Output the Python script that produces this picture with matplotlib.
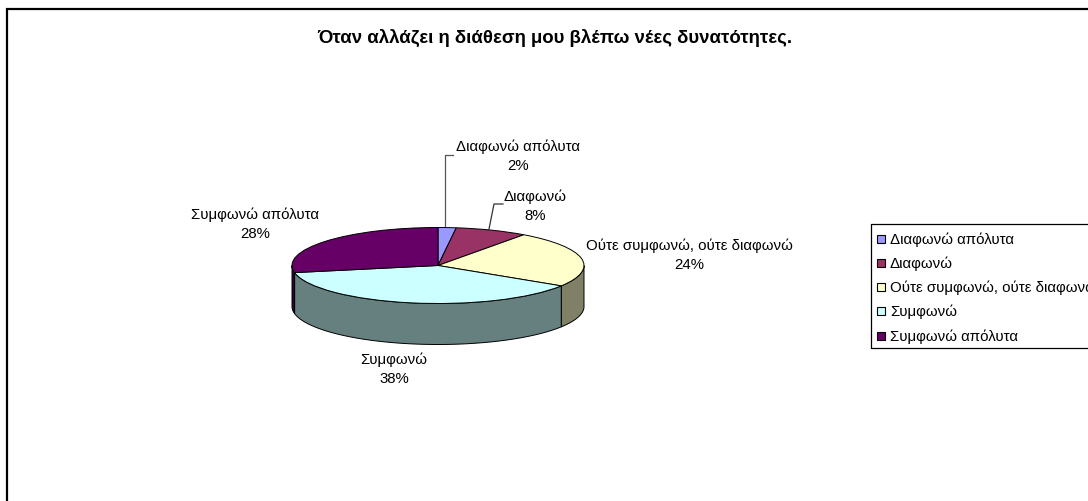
import numpy as np
import matplotlib
matplotlib.use("Agg")
import matplotlib.pyplot as plt
from matplotlib.patches import Rectangle, Polygon

plt.rcParams['font.family'] = ['Liberation Sans', 'DejaVu Sans']

title = "Όταν αλλάζει η διάθεση μου βλέπω νέες δυνατότητες."
categories = ["Διαφωνώ απόλυτα", "Διαφωνώ", "Ούτε συμφωνώ, ούτε διαφωνώ", "Συμφωνώ", "Συμφωνώ απόλυτα"]
percent = [2, 8, 24, 38, 28]
colors = ["#9999FF", "#993366", "#FFFFCC", "#CCFFFF", "#660066"]
side_colors = ["#4D4D80", "#4D1A33", "#808066", "#668080", "#330033"]
label_centres = [(518, 156.5), (535, 206.5), (689, 255.5), (394, 369.5), (255, 224.5)]
legend_rows = [240, 264, 288, 312, 337]

W, H = 1088, 502
fig = plt.figure(figsize=(W / 100, H / 100), dpi=100, facecolor="white")

# Page-level layer in pixel units for frame, title, labels and legend
page = fig.add_axes([0, 0, 1, 1])
page.set_xlim(0, W)
page.set_ylim(H, 0)
page.axis("off")

# Pie layer: unit circle squashed into an ellipse for the tilted 3-D look
cx, cy, rx, ry, depth = 438, 266.5, 146, 38, 41
pie_ax = fig.add_axes([(cx - rx) / W, 1 - (cy + ry) / H, 2 * rx / W, 2 * ry / H])
pie_ax.set_xlim(-1, 1)
pie_ax.set_ylim(-1, 1)
pie_ax.axis("off")
drop = 2 * depth / (2 * ry)

# Clockwise angle from 12 o'clock for every slice boundary
edges = np.concatenate([[0], np.cumsum(percent)]) / sum(percent) * 2 * np.pi

# Side wall: only the part of the rim facing the viewer (90 to 270 degrees)
for a0, a1, side in zip(edges[:-1], edges[1:], side_colors):
    lo, hi = max(a0, np.pi / 2), min(a1, 3 * np.pi / 2)
    if hi <= lo:
        continue
    t = np.linspace(lo, hi, 80)
    top = np.column_stack([np.sin(t), np.cos(t)])
    bottom = (top - [0, drop])[::-1]
    pie_ax.add_patch(Polygon(np.vstack([top, bottom]), closed=True, facecolor=side,
                             edgecolor="black", linewidth=0.7, clip_on=False, zorder=1))

wedges, _ = pie_ax.pie(percent, colors=colors, startangle=90, counterclock=False, radius=1,
                       center=(0, 0), frame=True,
                       wedgeprops=dict(edgecolor="black", linewidth=0.7, clip_on=False, zorder=2))
pie_ax.set_aspect("auto")
pie_ax.set_xlim(-1, 1)
pie_ax.set_ylim(-1, 1)
pie_ax.axis("off")

# Chart frame: only the top and left edges fall inside the canvas
page.plot([6.5, 6.5, W], [H, 10, 10], color="black", lw=1.6, solid_joinstyle="miter")

page.text(555, 37.5, title, ha="center", va="center", fontsize=13.4, fontweight="bold", color="black")

for name, pct, (x, y) in zip(categories, percent, label_centres):
    page.text(x, y, f"{name}\n{pct}%", ha="center", va="center", fontsize=10.8,
              color="black", linespacing=1.45)

# Leader lines of the two narrow slices
page.plot([445, 445, 453], [229, 156, 156], color="#555555", lw=0.9)
page.plot([489, 494, 503], [230, 205, 205], color="#333333", lw=0.9)

# Legend box, running off the right edge
page.plot([W, 871, 871, W], [225, 225, 349, 349], color="black", lw=0.9)
for name, color, y in zip(categories, colors, legend_rows):
    page.add_patch(Rectangle((877, y - 4), 8, 8, facecolor=color, edgecolor="black", lw=0.8))
    page.text(890, y, name, ha="left", va="center", fontsize=10.8, color="black", clip_on=True)

fig.savefig("out.png", dpi=100, facecolor="white")
